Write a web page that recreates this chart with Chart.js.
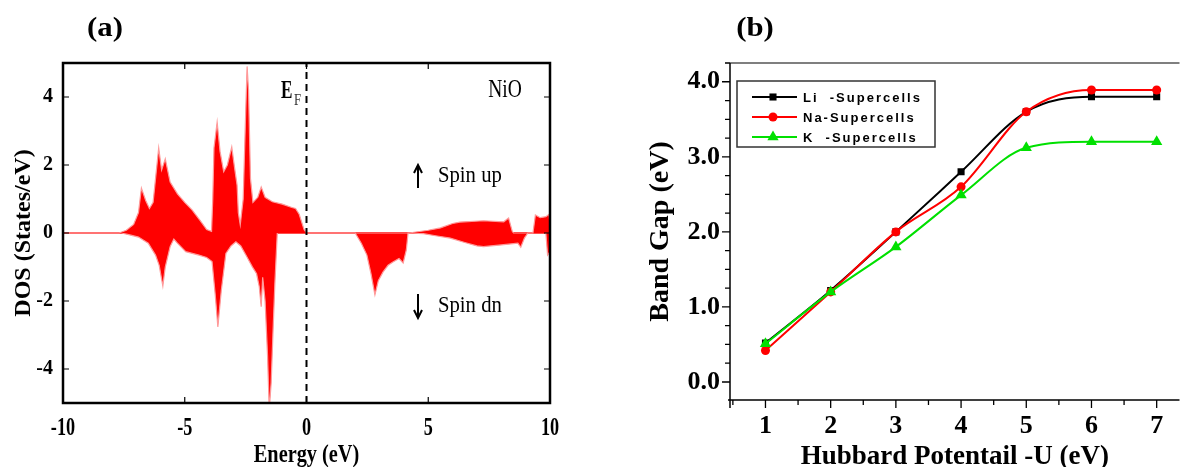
<!DOCTYPE html>
<html>
<head>
<meta charset="utf-8">
<script src="https://cdn.jsdelivr.net/npm/chart.js@4.4.1/dist/chart.umd.min.js"></script>
<style>
  html, body { margin: 0; padding: 0; background: #fff; }
  #wrap { position: relative; width: 1186px; height: 467px; overflow: hidden; }
  #wa { position: absolute; left: 0; top: 0; width: 575px; height: 467px; }
  #wb { position: absolute; left: 575px; top: 0; width: 611px; height: 467px; }
</style>
</head>
<body>
<div id="wrap">
  <div id="wa"><canvas id="dos"></canvas></div>
  <div id="wb"><canvas id="gap"></canvas></div>
</div>
<script>
(function() {

// ---- panel (a): NiO density of states, [energy eV, states/eV]
const DOS_UP = [
  [-10, 0], [-7.7, 0], [-7.4, 0.08], [-7.1, 0.25], [-6.9, 0.6], [-6.78, 1.32], [-6.6, 0.95],
  [-6.45, 0.72], [-6.3, 0.9], [-6.2, 1.6], [-6.07, 2.5], [-5.95, 1.85], [-5.8, 2.18], [-5.6, 1.5],
  [-5.3, 1.15], [-5.0, 0.9], [-4.7, 0.68], [-4.35, 0.35], [-4.1, 0.1], [-3.9, 0.05], [-3.85, 1.0],
  [-3.8, 2.5], [-3.67, 3.26], [-3.55, 2.4], [-3.4, 1.8], [-3.25, 2.0], [-3.07, 2.53], [-2.95, 1.9],
  [-2.85, 1.4], [-2.8, 0.6], [-2.72, 0.24], [-2.6, 1.0], [-2.5, 3.5], [-2.44, 4.9], [-2.38, 4.2],
  [-2.3, 1.6], [-2.2, 0.9], [-2.0, 1.05], [-1.86, 1.35], [-1.7, 1.05], [-1.4, 0.92], [-1.0, 0.85],
  [-0.6, 0.75], [-0.45, 0.72], [-0.3, 0.55], [-0.1, 0.1], [0, 0], [4.2, 0], [5.0, 0.08], [5.5, 0.15],
  [6.0, 0.28], [6.3, 0.32], [7.27, 0.36], [8.1, 0.33], [8.3, 0.44], [8.45, 0.05], [8.5, 0], [9.3, 0],
  [9.4, 0.53], [9.6, 0.45], [9.83, 0.48], [9.96, 0.55], [10, 0.3]
]
const DOS_DN = [
  [-10, 0], [-7.6, 0], [-7.3, -0.05], [-6.9, -0.12], [-6.5, -0.3], [-6.2, -0.65], [-6.05, -0.95],
  [-5.9, -1.56], [-5.8, -1.0], [-5.6, -0.4], [-5.45, -0.18], [-5.3, -0.3], [-4.96, -0.55],
  [-4.42, -0.65], [-4.1, -0.72], [-3.88, -0.84], [-3.75, -1.8], [-3.64, -2.76], [-3.5, -1.7],
  [-3.31, -0.6], [-3.1, -0.38], [-2.9, -0.26], [-2.7, -0.38], [-2.45, -0.7], [-2.23, -0.99],
  [-2.05, -1.2], [-1.94, -1.58], [-1.86, -2.17], [-1.8, -1.3], [-1.7, -2.0], [-1.6, -3.6],
  [-1.53, -5.2], [-1.45, -4.4], [-1.38, -3.0], [-1.3, -1.5], [-1.2, 0], [2.0, 0], [2.25, -0.3],
  [2.48, -0.65], [2.65, -1.2], [2.81, -1.82], [2.95, -1.4], [3.14, -1.15], [3.35, -0.95],
  [3.55, -0.85], [3.8, -0.75], [3.97, -0.88], [4.1, -0.5], [4.17, 0], [4.8, -0.02], [5.3, -0.08],
  [5.9, -0.15], [6.5, -0.28], [7.0, -0.38], [7.27, -0.4], [8.0, -0.35], [8.68, -0.3], [8.8, -0.42],
  [8.95, -0.15], [9.09, 0], [9.83, 0], [9.9, -0.65], [10, -0.55]
]
const ENERGY_TICKS = [-10, -5, 0, 5, 10]
const DOS_TICKS = [-4, -2, 0, 2, 4]

// ---- panel (b): band gap vs Hubbard U
const HUBBARD_U = [1, 2, 3, 4, 5, 6, 7]
const GAP_LI = [0.52, 1.22, 2.0, 2.8, 3.6, 3.8, 3.8]
const GAP_NA = [0.42, 1.2, 2.0, 2.6, 3.6, 3.89, 3.89]
const GAP_K = [0.51, 1.2, 1.8, 2.49, 3.12, 3.2, 3.2]
const GAP_TICKS = [0, 1, 2, 3, 4]
const SERIES = [
  { label: "Li  -Supercells", data: GAP_LI, color: "#000000", style: "rect", radius: 5 },
  { label: "Na-Supercells", data: GAP_NA, color: "#ff0000", style: "circle", radius: 4.5 },
  { label: "K  -Supercells", data: GAP_K, color: "#00e000", style: "triangle", radius: 6.5 },
]

const SERIF = '"Liberation Serif", "Times New Roman", serif'
const SANS = '"Liberation Sans", Arial, sans-serif'

// text squeezed horizontally, the source figure is condensed
function squeeze(ctx, str, x, y, font, sx, align, baseline) {
  ctx.save()
  ctx.font = font
  ctx.textAlign = align || "center"
  ctx.textBaseline = baseline || "middle"
  ctx.translate(x, y)
  ctx.scale(sx, 1)
  ctx.fillText(str, 0, 0)
  ctx.restore()
}

function arrow(ctx, x, y0, y1) {
  const d = y1 > y0 ? -1 : 1
  ctx.beginPath()
  ctx.moveTo(x, y0)
  ctx.lineTo(x, y1)
  ctx.moveTo(x - 4, y1 + d * 8)
  ctx.lineTo(x, y1)
  ctx.lineTo(x + 4, y1 + d * 8)
  ctx.stroke()
}

const dosDecor = {
  id: "dosDecor",
  afterDraw(chart) {
    const { ctx, chartArea: a, scales: { x, y } } = chart
    ctx.save()
    ctx.strokeStyle = "#000"
    ctx.lineWidth = 2.5
    ctx.strokeRect(a.left, a.top, a.width, a.height)

    ctx.lineWidth = 1.2
    ctx.beginPath()
    ENERGY_TICKS.forEach(v => {
      const px = x.getPixelForValue(v)
      ctx.moveTo(px, a.bottom); ctx.lineTo(px, a.bottom - 6)
      ctx.moveTo(px, a.top); ctx.lineTo(px, a.top + 6)
    })
    DOS_TICKS.forEach(v => {
      const py = y.getPixelForValue(v)
      ctx.moveTo(a.left, py); ctx.lineTo(a.left + 6, py)
      ctx.moveTo(a.right, py); ctx.lineTo(a.right - 6, py)
    })
    ctx.stroke()

    ctx.fillStyle = "#000"
    ENERGY_TICKS.forEach(v => squeeze(ctx, String(v), x.getPixelForValue(v), a.bottom + 25, "bold 26px " + SERIF, 0.7))
    ctx.font = "bold 20px " + SERIF
    ctx.textAlign = "right"
    ctx.textBaseline = "middle"
    DOS_TICKS.forEach(v => ctx.fillText(String(v), a.left - 10, y.getPixelForValue(v)))

    squeeze(ctx, "Energy (eV)", (a.left + a.right) / 2, 455, "bold 26px " + SERIF, 0.78)
    squeeze(ctx, "(a)", 105, 29, "bold 28px " + SERIF, 1.1)

    squeeze(ctx, "E", 281, 98, "bold 26px " + SERIF, 0.66, "left", "alphabetic")
    ctx.fillStyle = "#333"
    squeeze(ctx, "F", 294, 105, "17px " + SERIF, 0.75, "left", "alphabetic")
    ctx.fillStyle = "#000"
    squeeze(ctx, "NiO", 505, 97, "25px " + SERIF, 0.78, "center", "alphabetic")
    squeeze(ctx, "Spin up", 438, 182, "23px " + SERIF, 0.9, "left", "alphabetic")
    squeeze(ctx, "Spin dn", 438, 312, "23px " + SERIF, 0.9, "left", "alphabetic")
    ctx.lineWidth = 2
    arrow(ctx, 418, 188, 165)
    arrow(ctx, 418, 294, 318)
    ctx.restore()
  }
}

const pts = arr => arr.map(([e, d]) => ({ x: e, y: d }))

new Chart(document.getElementById("dos"), {
  type: "line",
  data: {
    datasets: [
      { data: [{ x: 0, y: -5 }, { x: 0, y: 5 }], borderColor: "#000", borderWidth: 2, borderDash: [7, 5], pointRadius: 0, fill: false, order: 0 },
      { data: pts(DOS_UP), borderColor: "#ff9a9a", backgroundColor: "#ff0000", borderWidth: 1.2, pointRadius: 0, tension: 0, fill: "origin", order: 1 },
      { data: pts(DOS_DN), borderColor: "#ff9a9a", backgroundColor: "#ff0000", borderWidth: 1.2, pointRadius: 0, tension: 0, fill: "origin", order: 2 },
      { data: [{ x: -10, y: 0 }, { x: 10, y: 0 }], borderColor: "#ff0000", borderWidth: 2, pointRadius: 0, fill: false, order: 3 },
    ]
  },
  options: {
    animation: false,
    responsive: true,
    maintainAspectRatio: false,
    events: [],
    layout: { padding: { top: 63, right: 25, left: 0, bottom: 0 } },
    plugins: { legend: { display: false }, tooltip: { enabled: false } },
    scales: {
      x: {
        type: "linear", min: -10, max: 10,
        grid: { display: false }, border: { display: false },
        ticks: { display: false },
        afterFit: s => { s.height = 64 },
      },
      y: {
        type: "linear", min: -5, max: 5,
        grid: { display: false }, border: { display: false },
        ticks: { display: false },
        title: { display: true, text: "DOS (States/eV)", color: "#000", font: { family: SERIF, size: 24, weight: "bold" }, padding: { top: 9 } },
        afterFit: s => { s.width = 63 },
      },
    },
  },
  plugins: [dosDecor],
})

const gapDecor = {
  id: "gapDecor",
  afterDraw(chart) {
    const { ctx, chartArea: a, scales: { x, y } } = chart
    ctx.save()
    ctx.strokeStyle = "#555"
    ctx.lineWidth = 1.5
    ctx.beginPath()
    ctx.moveTo(a.left, a.top); ctx.lineTo(a.right, a.top)
    ctx.stroke()

    ctx.strokeStyle = "#000"
    ctx.beginPath()
    ctx.moveTo(a.left, a.top); ctx.lineTo(a.left, a.bottom + 8)
    ctx.moveTo(a.left - 2, a.bottom); ctx.lineTo(a.right, a.bottom)
    ctx.stroke()

    ctx.lineWidth = 1.3
    ctx.beginPath()
    for (let v = 0; v <= 4.25; v += 0.25) {
      const py = y.getPixelForValue(v)
      const len = Number.isInteger(v) ? 8 : 5
      ctx.moveTo(a.left, py); ctx.lineTo(a.left - len, py)
    }
    for (let v = 0.5; v <= 7.3; v += 0.5) {
      const px = x.getPixelForValue(v)
      const len = Number.isInteger(v) ? 8 : 5
      ctx.moveTo(px, a.bottom); ctx.lineTo(px, a.bottom + len)
    }
    ctx.stroke()

    // legend box
    const lx = 162, ly = 81
    ctx.strokeStyle = "#333"
    ctx.lineWidth = 1.5
    ctx.strokeRect(lx, ly, 198, 66)
    SERIES.forEach((s, i) => {
      const ry = ly + 16 + i * 20
      ctx.strokeStyle = s.color
      ctx.fillStyle = s.color
      ctx.lineWidth = 2
      ctx.beginPath()
      ctx.moveTo(lx + 15, ry); ctx.lineTo(lx + 60, ry)
      ctx.stroke()
      Chart.helpers.drawPoint(ctx, { pointStyle: s.style, radius: s.radius, rotation: 0, borderWidth: 0 }, lx + 36, ry)
      ctx.fillStyle = "#000"
      ctx.font = "bold 13px " + SANS
      ctx.letterSpacing = "2px"
      ctx.textAlign = "left"
      ctx.textBaseline = "middle"
      ctx.fillText(s.label, lx + 66, ry + 1)
      ctx.letterSpacing = "0px"
    })

    ctx.fillStyle = "#000"
    squeeze(ctx, "(b)", 180, 29, "bold 28px " + SERIF, 1.1)
    ctx.restore()
  }
}

new Chart(document.getElementById("gap"), {
  type: "line",
  data: {
    datasets: SERIES.map((s, i) => ({
      label: s.label,
      data: HUBBARD_U.map((u, j) => ({ x: u, y: s.data[j] })),
      borderColor: s.color,
      backgroundColor: s.color,
      borderWidth: 2,
      pointStyle: s.style,
      pointRadius: s.radius,
      pointBorderWidth: 0,
      cubicInterpolationMode: "monotone",
      fill: false,
      order: 3 - i,
    }))
  },
  options: {
    animation: false,
    responsive: true,
    maintainAspectRatio: false,
    events: [],
    layout: { padding: { top: 63, right: 0, left: 0, bottom: 0 } },
    plugins: { legend: { display: false }, tooltip: { enabled: false } },
    scales: {
      x: {
        type: "linear", min: 0.456, max: 7.35,
        afterBuildTicks: s => { s.ticks = HUBBARD_U.map(v => ({ value: v })) },
        grid: { display: false, drawTicks: false }, border: { display: false },
        ticks: { color: "#000", font: { family: SERIF, size: 26, weight: "bold" }, padding: 11, maxRotation: 0 },
        title: { display: true, text: "Hubbard Potentail -U (eV)", color: "#000", font: { family: SERIF, size: 27, weight: "bold" }, padding: { top: 0, bottom: -6 } },
        afterFit: s => { s.height = 67 },
      },
      y: {
        type: "linear", min: -0.24, max: 4.25,
        afterBuildTicks: s => { s.ticks = GAP_TICKS.map(v => ({ value: v })) },
        grid: { display: false, drawTicks: false }, border: { display: false },
        ticks: { color: "#000", font: { family: SERIF, size: 26, weight: "bold" }, padding: 10, callback: v => v.toFixed(1) },
        title: { display: true, text: "Band Gap (eV)", color: "#000", font: { family: SERIF, size: 28, weight: "bold" }, padding: { top: 69 } },
        afterFit: s => { s.width = 155 },
      },
    },
  },
  plugins: [gapDecor],
})

}())
</script>
</body>
</html>
